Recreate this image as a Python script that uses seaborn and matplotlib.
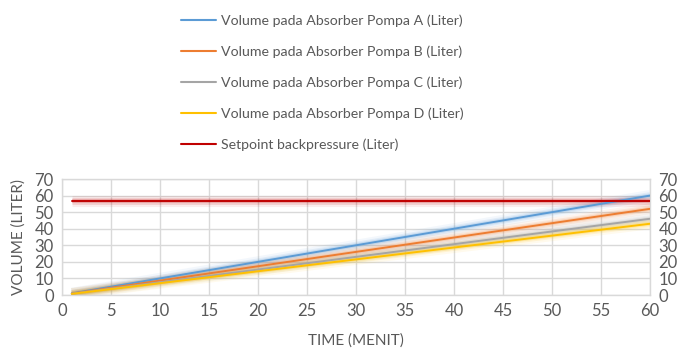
import matplotlib
matplotlib.use("Agg")
import matplotlib.pyplot as plt
import seaborn as sns
import pandas as pd

# Measured volumes (start and end of the 60-minute run)
time_menit = [1, 60]
pompa_a = [1.0, 60.0]
pompa_b = [0.9, 52.0]
pompa_c = [0.8, 46.0]
pompa_d = [0.7, 43.0]
setpoint = [56.5, 56.5]

labels = [
    "Volume pada Absorber Pompa A (Liter)",
    "Volume pada Absorber Pompa B (Liter)",
    "Volume pada Absorber Pompa C (Liter)",
    "Volume pada Absorber Pompa D (Liter)",
    "Setpoint backpressure (Liter)",
]
colors = ["#5b9bd5", "#ed7d31", "#a5a5a5", "#ffc000", "#c00000"]
x_ticks = list(range(0, 65, 5))
y_ticks = list(range(0, 80, 10))

frames = []
for lab, vals in zip(labels, [pompa_a, pompa_b, pompa_c, pompa_d, setpoint]):
    frames.append(pd.DataFrame({"time": time_menit, "volume": vals, "series": lab}))
df = pd.concat(frames, ignore_index=True)

sns.set_theme(style="white")
plt.rcParams["font.family"] = ["Lato", "DejaVu Sans"]
text_color = "#595959"

fig = plt.figure(figsize=(6.85, 3.52), dpi=100)
ax = fig.add_axes([62 / 685, 1 - 295 / 352, (650 - 62) / 685, (295 - 179) / 352])

# soft glow beneath each line
for lab, col in zip(labels, colors):
    sub = df[df["series"] == lab]
    for w, a in [(8, 0.07), (5, 0.12), (3, 0.2)]:
        ax.plot(sub["time"], sub["volume"], color=col, lw=w, alpha=a,
                solid_capstyle="butt", zorder=2)

sns.lineplot(data=df, x="time", y="volume", hue="series", hue_order=labels,
             palette=colors, linewidth=1.4, ax=ax, legend=False, zorder=3)

ax.set_xlim(0, 60)
ax.set_ylim(0, 70)
ax.set_xticks(x_ticks)
ax.set_yticks(y_ticks)
ax.grid(True, color="#d9d9d9", linewidth=1)
for s in ax.spines.values():
    s.set_color("#d9d9d9")
    s.set_linewidth(1)
ax.tick_params(axis="both", length=0, labelsize=12, labelcolor=text_color, pad=6)
ax.set_xlabel("TIME (MENIT)", fontsize=11, color=text_color, labelpad=10)
ax.set_ylabel("VOLUME (LITER)", fontsize=11, color=text_color, labelpad=6)

ax2 = ax.twinx()
ax2.set_ylim(0, 70)
ax2.set_yticks(y_ticks)
ax2.tick_params(axis="y", length=0, labelsize=12, labelcolor=text_color, pad=6)
for s in ax2.spines.values():
    s.set_visible(False)

handles = [plt.Line2D([0], [0], color=c, lw=1.5) for c in colors]
fig.legend(handles, labels, loc="upper left", bbox_to_anchor=(168 / 685, 0.995),
           frameon=False, fontsize=10.2, labelcolor=text_color,
           handlelength=2.5, handletextpad=0.35, labelspacing=1.3)

fig.savefig("out.png", dpi=100)
